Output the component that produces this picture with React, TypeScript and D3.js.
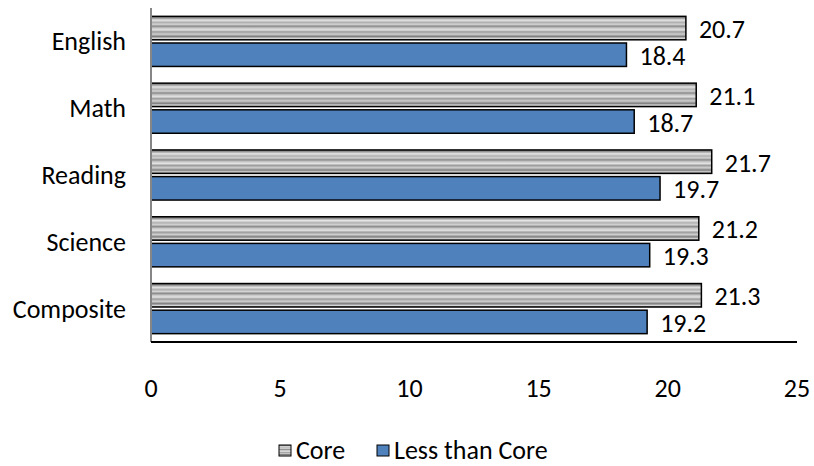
import React, { useEffect, useRef } from "react";
import * as d3 from "d3";

const categories = ["English", "Math", "Reading", "Science", "Composite"];
const seriesNames = ["Core", "Less than Core"];
const coreValues = [20.7, 21.1, 21.7, 21.2, 21.3];
const lessValues = [18.4, 18.7, 19.7, 19.3, 19.2];
const xTicks = [0, 5, 10, 15, 20, 25];

const FONT = "Carlito, Calibri, 'Open Sans', sans-serif";
const FS = 26;

const App: React.FC = () => {
  const svgRef = useRef<SVGSVGElement | null>(null);

  useEffect(() => {
    const width = 814;
    const height = 466;
    const margin = { top: 8, right: 17, bottom: 124, left: 151 };

    const svg = d3.select(svgRef.current);
    svg.selectAll("*").remove();

    // stripey metallic fill for the Core bars
    const defs = svg.append("defs");
    const grad = defs
      .append("linearGradient")
      .attr("id", "coreStripes")
      .attr("x1", 0)
      .attr("y1", 0)
      .attr("x2", 0)
      .attr("y2", 1);
    const stops: [number, string][] = [
      [0, "#6a6a6a"],
      [0.08, "#9a9a9a"],
      [0.16, "#e6e6e6"],
      [0.26, "#b0b0b0"],
      [0.34, "#d4d4d4"],
      [0.42, "#8a8a8a"],
      [0.5, "#c8c8c8"],
      [0.58, "#e2e2e2"],
      [0.66, "#9c9c9c"],
      [0.76, "#cfcfcf"],
      [0.86, "#7c7c7c"],
      [0.94, "#dcdcdc"],
      [1, "#6a6a6a"],
    ];
    stops.forEach(([o, c]) =>
      grad.append("stop").attr("offset", o).attr("stop-color", c)
    );

    const x = d3
      .scaleLinear()
      .domain([0, 25])
      .range([margin.left, width - margin.right]);

    const y = d3
      .scaleBand()
      .domain(categories)
      .range([margin.top, height - margin.bottom])
      .paddingInner(0.25)
      .paddingOuter(0.125);

    const ySub = d3
      .scaleBand()
      .domain(seriesNames)
      .range([0, y.bandwidth()])
      .paddingInner(0.12);

    const data = categories.map((c, i) => ({
      cat: c,
      vals: [
        { s: seriesNames[0], v: coreValues[i] },
        { s: seriesNames[1], v: lessValues[i] },
      ],
    }));

    const fills: Record<string, string> = {
      Core: "url(#coreStripes)",
      "Less than Core": "#4f81bd",
    };

    const groups = svg
      .selectAll("g.cat")
      .data(data)
      .enter()
      .append("g")
      .attr("class", "cat")
      .attr("transform", (d) => `translate(0,${y(d.cat)})`);

    groups
      .selectAll("rect")
      .data((d) => d.vals)
      .enter()
      .append("rect")
      .attr("x", x(0))
      .attr("y", (d) => ySub(d.s)!)
      .attr("width", (d) => x(d.v) - x(0))
      .attr("height", ySub.bandwidth())
      .attr("fill", (d) => fills[d.s])
      .attr("stroke", "#000")
      .attr("stroke-width", 1.5);

    groups
      .selectAll("text.val")
      .data((d) => d.vals)
      .enter()
      .append("text")
      .attr("class", "val")
      .attr("x", (d) => x(d.v) + 13)
      .attr("y", (d) => ySub(d.s)! + ySub.bandwidth() / 2 + 10)
      .attr("font-family", FONT)
      .attr("font-size", FS)
      .attr("fill", "#000")
      .text((d) => d.v.toFixed(1));

    // category labels
    svg
      .selectAll("text.cat")
      .data(categories)
      .enter()
      .append("text")
      .attr("class", "cat")
      .attr("x", 126)
      .attr("y", (d) => y(d)! + y.bandwidth() / 2 + 9)
      .attr("text-anchor", "end")
      .attr("font-family", FONT)
      .attr("font-size", FS)
      .text((d) => d);

    // left axis line
    svg
      .append("line")
      .attr("x1", x(0))
      .attr("x2", x(0))
      .attr("y1", margin.top)
      .attr("y2", height - margin.bottom)
      .attr("stroke", "#868686")
      .attr("stroke-width", 2);

    // bottom axis line
    svg
      .append("line")
      .attr("x1", x(0))
      .attr("x2", x(25))
      .attr("y1", height - margin.bottom)
      .attr("y2", height - margin.bottom)
      .attr("stroke", "#000")
      .attr("stroke-width", 2);

    svg
      .selectAll("text.tick")
      .data(xTicks)
      .enter()
      .append("text")
      .attr("class", "tick")
      .attr("x", (d) => x(d))
      .attr("y", 397)
      .attr("text-anchor", "middle")
      .attr("font-family", FONT)
      .attr("font-size", FS)
      .text((d) => d);

    // legend
    const legend = svg.append("g").attr("transform", "translate(279,445)");
    const legendItems = [
      { s: "Core", dx: 0 },
      { s: "Less than Core", dx: 98 },
    ];
    legendItems.forEach((it) => {
      legend
        .append("rect")
        .attr("x", it.dx)
        .attr("y", 0)
        .attr("width", 12)
        .attr("height", 11)
        .attr("fill", fills[it.s])
        .attr("stroke", "#000")
        .attr("stroke-width", 1);
      legend
        .append("text")
        .attr("x", it.dx + 17)
        .attr("y", 14)
        .attr("font-family", FONT)
        .attr("font-size", FS)
        .text(it.s);
    });
  }, []);

  return (
    <svg
      ref={svgRef}
      width={814}
      height={466}
      style={{ position: "absolute", left: 0, top: 0, background: "#fff" }}
    ></svg>
  );
};

export default App;
